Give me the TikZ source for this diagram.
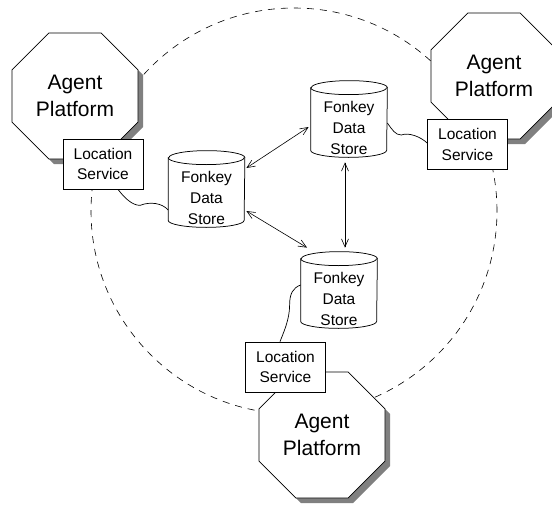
\documentclass[tikz,border=0pt]{standalone}
\usepackage{fontspec}
\setmainfont{Liberation Sans}
\usetikzlibrary{shapes.geometric,shadows,arrows.meta}
\begin{document}
\begin{tikzpicture}[x=1pt,y=-1pt,line width=0.75pt,
  platform/.style={regular polygon,regular polygon sides=8,minimum size=136.4pt,inner sep=0pt,
    draw=black,fill=white,align=center,font=\fontsize{21}{27}\selectfont,
    drop shadow={shadow xshift=5pt,shadow yshift=-5pt,fill=black!50,opacity=1}},
  locbox/.style={rectangle,draw=black,fill=white,minimum width=80pt,minimum height=50pt,inner sep=0pt,
    align=center,font=\fontsize{15.5}{20.5}\selectfont},
  store/.style={rectangle,minimum width=76pt,minimum height=58pt,inner sep=0pt,
    align=center,font=\fontsize{15.5}{21}\selectfont},
  cylbody/.style={draw=black},
  ring/.style={circle,draw=black,line width=0.6pt,dash pattern=on 7pt off 6pt,minimum size=406pt,inner sep=0pt},
  link/.style={draw=black,line width=0.6pt,{Straight Barb[length=8pt,width=7pt]}-{Straight Barb[length=8pt,width=7pt]}},
  wave/.style={draw=black,line width=0.7pt}]
\useasboundingbox (0,0) rectangle (552,506);
\node[ring] (ring) at (294,211) {};
% platforms
\node[platform] (p1) at (75,96) {Agent\\Platform};
\node[platform] (p2) at (494,76) {Agent\\Platform};
\node[platform] (p3) at (322,435) {Agent\\Platform};
% location services
\node[locbox] (ls1) at (103,164) {Location\\Service};
\node[locbox] (ls2) at (467.5,144.5) {Location\\Service};
\node[locbox] (ls3) at (285.5,367) {Location\\Service};
% data stores
\node[store] (c1) at (349,128) {Fonkey\\Data\\Store};
\node[store] (c2) at (206.5,198) {Fonkey\\Data\\Store};
\node[store] (c3) at (339,299) {Fonkey\\Data\\Store};
\foreach \c in {c1,c2,c3}{
  \draw[cylbody] ([yshift=11pt]\c.north west) -- ([yshift=7pt]\c.south west)
    arc[start angle=180,end angle=360,x radius=38pt,y radius=7pt]
    -- ([yshift=11pt]\c.north east)
    arc[start angle=0,end angle=180,x radius=38pt,y radius=7pt] -- cycle;
  \draw[cylbody] ([yshift=11pt]\c.north west) arc[start angle=180,end angle=360,x radius=38pt,y radius=7pt];
}
% arrows
\draw[link] ([xshift=-2pt,yshift=1pt]c1.west) -- ([xshift=1.5pt,yshift=30pt]c2.east);
\draw[link] ([xshift=1.5pt,yshift=-13pt]c2.east) -- ([xshift=-32pt,yshift=22pt]c3.north);
\draw[link] ([xshift=-4pt,yshift=-5pt]c1.south) -- ([xshift=6pt,yshift=22pt]c3.north);
% wavy connectors
\draw[wave] ([xshift=15pt]ls1.south) .. controls +(6,8) and +(-8,0) .. ++(22,16)
  .. controls +(10,-4) and +(-6,-7) .. ([yshift=-12pt]c2.west);
\draw[wave] ([yshift=5pt]c1.east) .. controls +(5,7) and +(-6,0) .. ++(14,12)
  .. controls +(7,-3) and +(-6,-6) .. ([yshift=1.5pt]ls2.west);
\draw[wave] ([yshift=14pt]c3.west) .. controls +(-8,3) and +(0,-11) .. ++(-11,20)
  .. controls +(0,15) and +(3,-8) .. ([xshift=-5.5pt]ls3.north);
\end{tikzpicture}
\end{document}
